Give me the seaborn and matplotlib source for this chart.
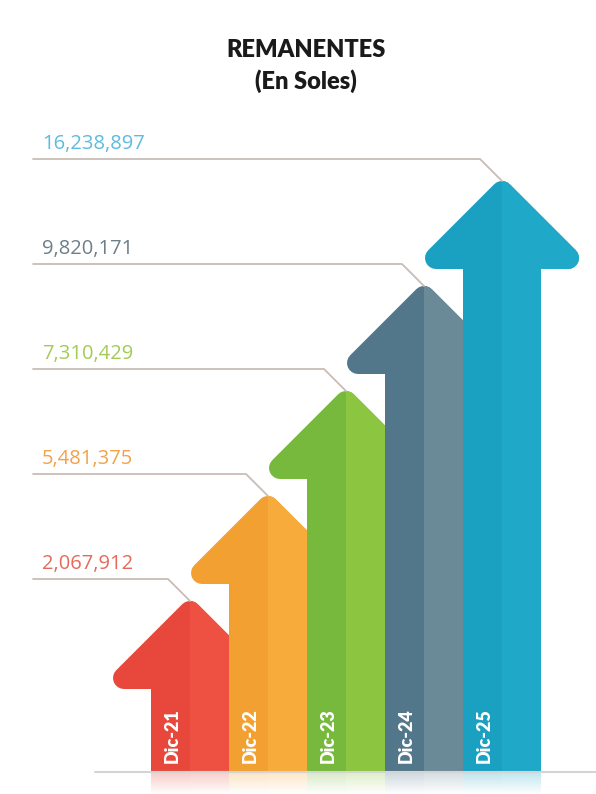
import numpy as np
import pandas as pd
import matplotlib
matplotlib.use("Agg")
import matplotlib.pyplot as plt
from matplotlib.patches import Polygon, Rectangle
import seaborn as sns

# ---- data ----
categorias = ["Dic-21", "Dic-22", "Dic-23", "Dic-24", "Dic-25"]
remanentes = [2067912, 5481375, 7310429, 9820171, 16238897]
niveles = [1, 2, 3, 4, 5]          # step height of each arrow (infographic, not to scale)
colores_osc = ["#e8483b", "#f3a032", "#76b93c", "#52768a", "#1aa0c1"]
colores_cla = ["#ee5141", "#f7ab3a", "#8cc540", "#6a8a98", "#1fa8c8"]
colores_txt = ["#e66a5c", "#f3a24c", "#a3cb55", "#6e7f89", "#5fbbdf"]
titulo = "REMANENTES"
subtitulo = "(En Soles)"

sns.set_theme(style="white")
plt.rcParams["font.family"] = ["Lato", "DejaVu Sans"]

W, H = 596, 794
fig = plt.figure(figsize=(W / 100, H / 100), dpi=100)
ax = fig.add_axes([0, 0, 1, 1])

PXX = 1 / 78.0    # data units per pixel (x)
PXY = 1 / 105.0   # data units per pixel (y)
X0 = 190          # pixel x of first category

df = pd.DataFrame({"cat": categorias, "nivel": niveles})
sns.barplot(data=df, x="cat", y="nivel", hue="cat", palette=colores_osc,
            width=1.0, saturation=1, linewidth=0, legend=False, ax=ax)
for i, p in enumerate(ax.patches[:len(categorias)]):
    p.set_zorder(2 + 2 * i)

R = 11  # corner radius of head, px
for i, (r, cd, cl) in enumerate(zip(niveles, colores_osc, colores_cla)):
    z = 2 + 2 * i
    # lighter right half of shaft
    ax.bar(i + 0.25, r, width=0.5, color=cl, linewidth=0, zorder=z + 0.5)
    # arrow head
    hw = (77 - R) * PXX
    yb = r + R * PXY
    yt = r + (88 - R) * PXY
    pts = [(i - hw, yb), (i, yt), (i + hw, yb)]
    head = Polygon(pts, closed=True, facecolor=cd, edgecolor=cd,
                   linewidth=2 * R * 0.72, joinstyle="round", zorder=z + 0.2)
    ax.add_patch(head)
    head2 = Polygon(pts, closed=True, facecolor=cl, edgecolor=cl,
                    linewidth=2 * R * 0.72, joinstyle="round", zorder=z + 0.6)
    ax.add_patch(head2)
    clip = Rectangle((i, 0), 3, 10, transform=ax.transData)
    head2.set_clip_path(clip)
    # leader line
    tipy = r + 88 * PXY
    ly = tipy + 22 * PXY
    x_start = (33 - X0) * PXX
    ax.plot([x_start, i - 22 * PXX, i], [ly, ly, tipy], color="#c9bcb5",
            linewidth=1.3, zorder=40, solid_capstyle="round")
    # value label
    ax.text((42 - X0) * PXX, ly + 5 * PXY, f"{remanentes[i]:,}", ha="left",
            va="bottom", fontsize=14.5, color=colores_txt[i],
            family=["Open Sans", "DejaVu Sans"], zorder=41)
    # category label (rotated)
    ax.text(i - 18 * PXX, 31 * PXY, categorias[i], rotation=90, ha="center",
            va="bottom", fontsize=13, fontweight="heavy", color="white",
            zorder=z + 1)

xlim = (-X0 * PXX, (W - X0) * PXX)
ylim = (0, H * PXY)

# reflection fade below the base line
base_y = 22 * PXY
grad = np.ones((40, 1, 4))
grad[:, 0, 3] = np.linspace(0.72, 1.0, 40)
ax.imshow(grad, extent=[xlim[0], xlim[1], 0, base_y], aspect="auto",
          origin="upper", zorder=50)
ax.plot([(95 - X0) * PXX, xlim[1]], [base_y, base_y], color="#d4d4d4",
        linewidth=1.5, zorder=51)

ax.set_xlim(*xlim)
ax.set_ylim(*ylim)
ax.axis("off")

fig.text(306 / W, 1 - 50 / H, titulo, ha="center", va="center",
         fontsize=17, fontweight="heavy", color="#1a1a1a")
fig.text(306 / W, 1 - 81 / H, subtitulo, ha="center", va="center",
         fontsize=17, fontweight="heavy", color="#1a1a1a")

fig.savefig("out.png", dpi=100, facecolor="white")
